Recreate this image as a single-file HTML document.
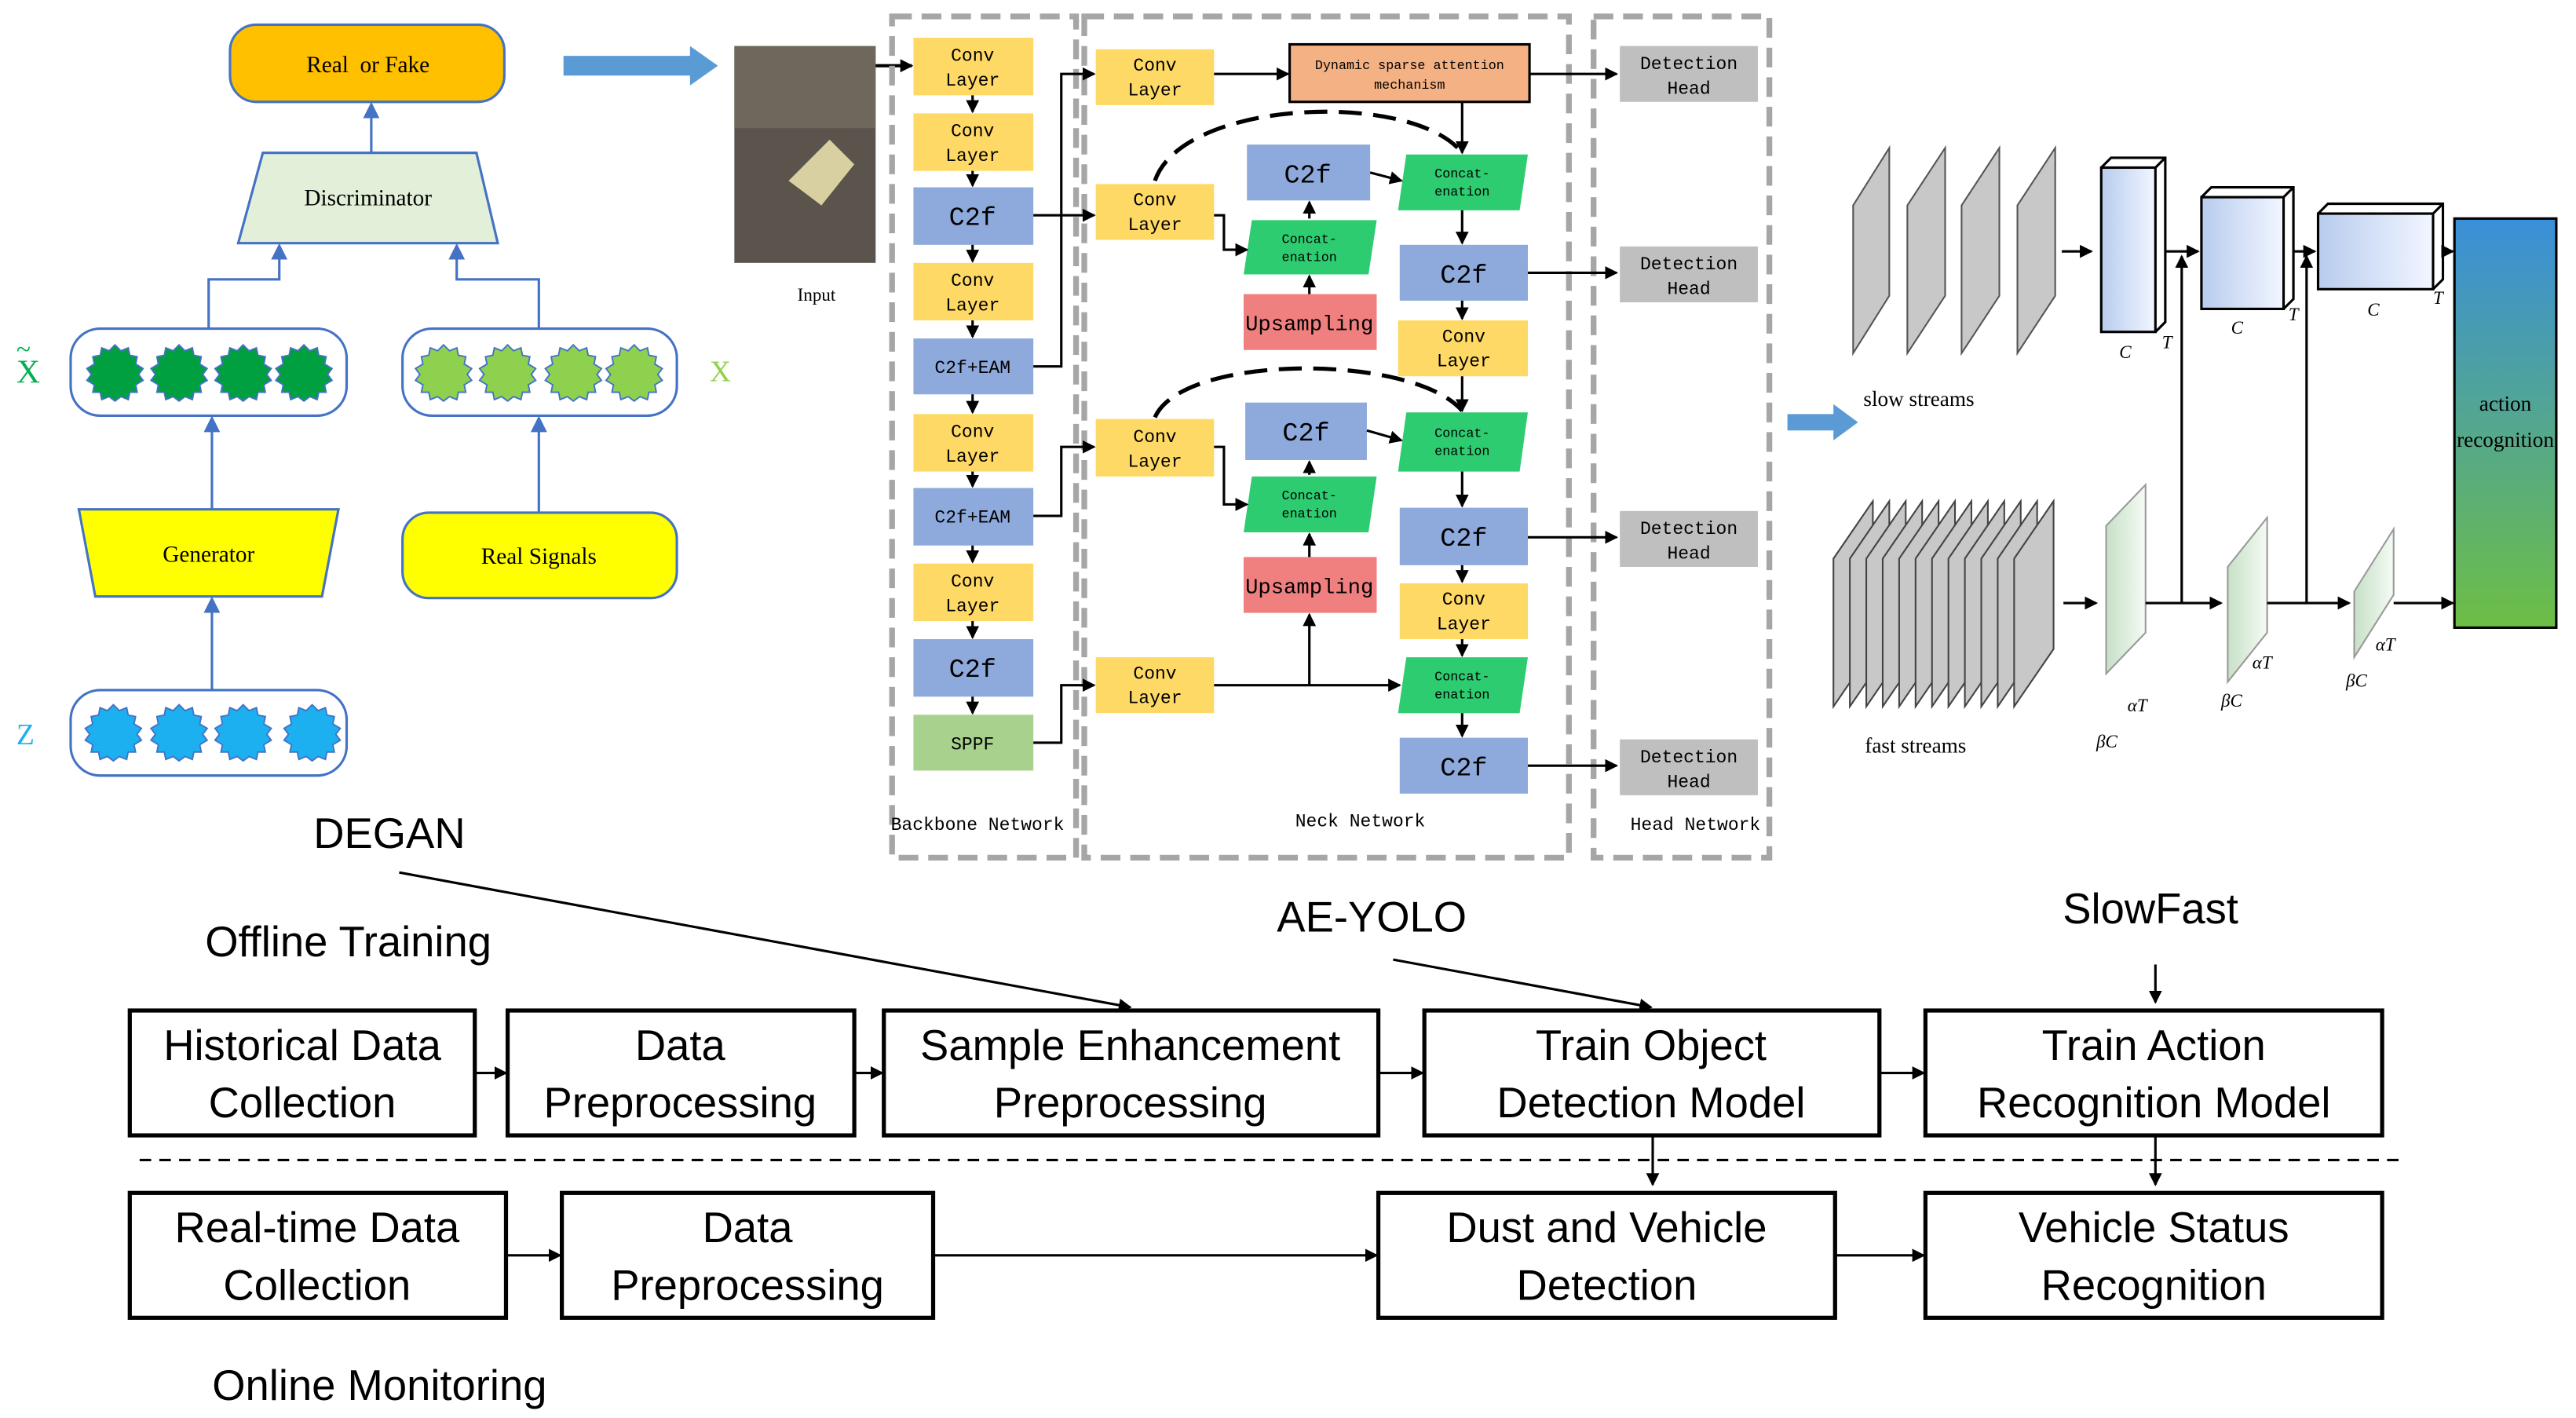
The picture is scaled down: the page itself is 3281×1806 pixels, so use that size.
<!DOCTYPE html>
<html><head><meta charset="utf-8"><style>html,body{margin:0;padding:0;background:#fff}svg{display:block}</style></head><body>
<svg width="3281" height="1806" viewBox="0 0 1568 863" preserveAspectRatio="none" xmlns="http://www.w3.org/2000/svg" font-family="Liberation Serif, serif">
<defs>
<marker id="a" markerWidth="8" markerHeight="8" refX="7" refY="4" orient="auto" markerUnits="userSpaceOnUse"><path d="M0,0 L8,4 L0,8 z" fill="#000"/></marker>
<marker id="ab" markerWidth="10" markerHeight="10" refX="8" refY="5" orient="auto" markerUnits="userSpaceOnUse"><path d="M0,0 L10,5 L0,10 z" fill="#4472C4"/></marker>
<linearGradient id="g" x1="0" y1="0" x2="0" y2="1"><stop offset="0" stop-color="#3A8FD9"/><stop offset="1" stop-color="#6DBE45"/></linearGradient>
<linearGradient id="cb" x1="0" y1="0" x2="1" y2="0"><stop offset="0" stop-color="#B8CCEE"/><stop offset="1" stop-color="#F2F6FF"/></linearGradient>
<linearGradient id="cg" x1="0" y1="0" x2="1" y2="0"><stop offset="0" stop-color="#C6E0C6"/><stop offset="1" stop-color="#F5FBF5"/></linearGradient>
<symbol id="st" viewBox="-20 -20 40 40"><polygon points="0,-19 4,-15 9,-17 10,-12 15,-11 14,-6 19,-3 16,1 19,5 14,8 15,13 10,13 9,18 4,16 0,19 -4,16 -9,18 -10,13 -15,13 -14,8 -19,5 -16,1 -19,-3 -14,-6 -15,-11 -10,-12 -9,-17 -4,-15"/></symbol>
</defs>

<!-- DEGAN -->
<rect x="140" y="15" width="167" height="47" rx="16" fill="#FFC000" stroke="#4472C4" stroke-width="1.5"/>
<text x="224" y="44" font-size="14" text-anchor="middle">Real &#160;or Fake</text>
<path d="M343,40 L422,40" stroke="#5B9BD5" stroke-width="12"/><path d="M420,28 L437,40 L420,52z" fill="#5B9BD5"/>
<path d="M160,93 L290,93 L303,148 L145,148z" fill="#E2F0D9" stroke="#4472C4" stroke-width="1.5"/>
<text x="224" y="125" font-size="14" text-anchor="middle">Discriminator</text>
<line x1="226" y1="93" x2="226" y2="64" stroke="#4472C4" stroke-width="1.5" marker-end="url(#ab)"/>
<path d="M127,200 L127,170 L170,170 L170,150" fill="none" stroke="#4472C4" stroke-width="1.5" marker-end="url(#ab)"/>
<path d="M328,200 L328,170 L278,170 L278,150" fill="none" stroke="#4472C4" stroke-width="1.5" marker-end="url(#ab)"/>
<rect x="43" y="200" width="168" height="53" rx="18" fill="#fff" stroke="#4472C4" stroke-width="1.5"/>
<g fill="#00A040" stroke="#4472C4" stroke-width="1"><use href="#st" x="52" y="209" width="36" height="36"/><use href="#st" x="91" y="209" width="36" height="36"/><use href="#st" x="130" y="209" width="36" height="36"/><use href="#st" x="167" y="209" width="36" height="36"/></g>
<rect x="245" y="200" width="167" height="53" rx="18" fill="#fff" stroke="#4472C4" stroke-width="1.5"/>
<g fill="#8DD14F" stroke="#4472C4" stroke-width="1"><use href="#st" x="252" y="209" width="36" height="36"/><use href="#st" x="291" y="209" width="36" height="36"/><use href="#st" x="331" y="209" width="36" height="36"/><use href="#st" x="368" y="209" width="36" height="36"/></g>
<text x="10" y="233" font-size="20" fill="#00B050">X</text><text x="10" y="218" font-size="16" fill="#00B050">~</text>
<text x="432" y="232" font-size="18" fill="#92D050">X</text>
<line x1="129" y1="310" x2="129" y2="255" stroke="#4472C4" stroke-width="1.5" marker-end="url(#ab)"/>
<line x1="328" y1="312" x2="328" y2="255" stroke="#4472C4" stroke-width="1.5" marker-end="url(#ab)"/>
<path d="M48,310 L206,310 L196,363 L58,363z" fill="#FFFF00" stroke="#4472C4" stroke-width="1.5"/>
<text x="127" y="342" font-size="14" text-anchor="middle">Generator</text>
<rect x="245" y="312" width="167" height="52" rx="16" fill="#FFFF00" stroke="#4472C4" stroke-width="1.5"/>
<text x="328" y="343" font-size="14" text-anchor="middle">Real Signals</text>
<line x1="129" y1="420" x2="129" y2="365" stroke="#4472C4" stroke-width="1.5" marker-end="url(#ab)"/>
<rect x="43" y="420" width="168" height="52" rx="18" fill="#fff" stroke="#4472C4" stroke-width="1.5"/>
<g fill="#1CB0F0" stroke="#4472C4" stroke-width="1"><use href="#st" x="51" y="428" width="36" height="36"/><use href="#st" x="91" y="428" width="36" height="36"/><use href="#st" x="130" y="428" width="36" height="36"/><use href="#st" x="172" y="428" width="36" height="36"/></g>
<text x="10" y="453" font-size="18" fill="#1CB0F0">Z</text>
<text x="237" y="516" font-size="26" text-anchor="middle" font-family="Liberation Sans, sans-serif">DEGAN</text>

<!-- AE-YOLO -->
<rect x="447" y="28" width="86" height="132" fill="#5a544c"/>
<rect x="447" y="28" width="86" height="50" fill="#7a7468" opacity="0.6"/>
<path d="M480,110 L505,85 L520,100 L500,125z" fill="#d8d0a0"/>
<text x="497" y="183" font-size="11" text-anchor="middle">Input</text>
<line x1="533" y1="40" x2="555" y2="40" stroke="#000" stroke-width="2" marker-end="url(#a)"/>
<g fill="none" stroke="#A6A6A6" stroke-width="3.5" stroke-dasharray="12,6">
<rect x="543" y="10" width="112" height="512"/><rect x="660" y="10" width="295" height="512"/><rect x="970" y="10" width="107" height="512"/>
</g>
<g font-family="Liberation Mono, monospace" font-size="11" text-anchor="middle">
<g fill="#FFD966">
<rect x="556" y="23" width="73" height="35"/><rect x="556" y="69" width="73" height="35"/><rect x="556" y="160" width="73" height="35"/><rect x="556" y="252" width="73" height="35"/><rect x="556" y="343" width="73" height="35"/>
<rect x="667" y="30" width="72" height="34"/><rect x="667" y="112" width="72" height="34"/><rect x="667" y="255" width="72" height="35"/><rect x="667" y="400" width="72" height="34"/>
<rect x="851" y="195" width="79" height="34"/><rect x="852" y="355" width="78" height="34"/>
</g>
<g fill="#8EA9DB">
<rect x="556" y="114" width="73" height="35"/><rect x="556" y="206" width="73" height="34"/><rect x="556" y="297" width="73" height="35"/><rect x="556" y="389" width="73" height="35"/>
<rect x="759" y="88" width="75" height="34"/><rect x="758" y="245" width="74" height="35"/>
<rect x="852" y="149" width="78" height="34"/><rect x="852" y="309" width="78" height="35"/><rect x="852" y="449" width="78" height="34"/>
</g>
<rect x="556" y="435" width="73" height="34" fill="#A9D18E"/>
<g fill="#2ECC71"><path d="M762,134 L838,134 L833,167 L757,167z"/><path d="M762,290 L838,290 L833,324 L757,324z"/>
<path d="M856,94 L930,94 L925,128 L851,128z"/><path d="M856,251 L930,251 L925,287 L851,287z"/><path d="M856,400 L930,400 L925,434 L851,434z"/></g>
<rect x="757" y="179" width="81" height="34" fill="#F08080"/><rect x="757" y="339" width="81" height="34" fill="#F08080"/>
<rect x="785" y="27" width="146" height="35" fill="#F4B183" stroke="#000" stroke-width="1.5"/>
<g fill="#BFBFBF"><rect x="986" y="28" width="84" height="34"/><rect x="986" y="150" width="84" height="34"/><rect x="986" y="311" width="84" height="34"/><rect x="986" y="450" width="84" height="34"/></g>
<g>
<text x="592" y="37">Conv</text><text x="592" y="52">Layer</text>
<text x="592" y="83">Conv</text><text x="592" y="98">Layer</text>
<text x="592" y="137" font-size="16">C2f</text>
<text x="592" y="174">Conv</text><text x="592" y="189">Layer</text>
<text x="592" y="227">C2f+EAM</text>
<text x="592" y="266">Conv</text><text x="592" y="281">Layer</text>
<text x="592" y="318">C2f+EAM</text>
<text x="592" y="357">Conv</text><text x="592" y="372">Layer</text>
<text x="592" y="412" font-size="16">C2f</text>
<text x="592" y="456">SPPF</text>
<text x="703" y="43">Conv</text><text x="703" y="58">Layer</text>
<text x="703" y="125">Conv</text><text x="703" y="140">Layer</text>
<text x="703" y="269">Conv</text><text x="703" y="284">Layer</text>
<text x="703" y="413">Conv</text><text x="703" y="428">Layer</text>
<text x="858" y="42" font-size="8">Dynamic sparse attention</text><text x="858" y="54" font-size="8">mechanism</text>
<text x="796" y="111" font-size="16">C2f</text><text x="795" y="268" font-size="16">C2f</text>
<text x="797" y="148" font-size="8">Concat-</text><text x="797" y="159" font-size="8">enation</text>
<text x="797" y="304" font-size="8">Concat-</text><text x="797" y="315" font-size="8">enation</text>
<text x="797" y="201" font-size="13">Upsampling</text><text x="797" y="361" font-size="13">Upsampling</text>
<text x="890" y="108" font-size="8">Concat-</text><text x="890" y="119" font-size="8">enation</text>
<text x="890" y="266" font-size="8">Concat-</text><text x="890" y="277" font-size="8">enation</text>
<text x="890" y="414" font-size="8">Concat-</text><text x="890" y="425" font-size="8">enation</text>
<text x="891" y="172" font-size="16">C2f</text><text x="891" y="332" font-size="16">C2f</text><text x="891" y="472" font-size="16">C2f</text>
<text x="891" y="208">Conv</text><text x="891" y="223">Layer</text>
<text x="891" y="368">Conv</text><text x="891" y="383">Layer</text>
<text x="1028" y="42">Detection</text><text x="1028" y="57">Head</text>
<text x="1028" y="164">Detection</text><text x="1028" y="179">Head</text>
<text x="1028" y="325">Detection</text><text x="1028" y="340">Head</text>
<text x="1028" y="464">Detection</text><text x="1028" y="479">Head</text>
<text x="595" y="505">Backbone Network</text><text x="828" y="503">Neck Network</text><text x="1032" y="505">Head Network</text>
</g>
</g>
<g stroke="#000" stroke-width="1.5" fill="none" marker-end="url(#a)">
<line x1="592" y1="58" x2="592" y2="68"/><line x1="592" y1="104" x2="592" y2="113"/><line x1="592" y1="149" x2="592" y2="159"/><line x1="592" y1="195" x2="592" y2="205"/><line x1="592" y1="240" x2="592" y2="251"/><line x1="592" y1="287" x2="592" y2="296"/><line x1="592" y1="332" x2="592" y2="342"/><line x1="592" y1="378" x2="592" y2="388"/><line x1="592" y1="424" x2="592" y2="434"/>
<path d="M629,131 L666,131"/><path d="M629,223 L646,223 L646,45 L666,45"/><path d="M629,314 L646,314 L646,272 L666,272"/><path d="M629,452 L646,452 L646,417 L666,417"/>
<path d="M739,45 L784,45"/><path d="M931,45 L984,45"/><path d="M890,62 L890,93"/>
<path d="M739,131 L745,131 L745,152 L759,152"/><path d="M797,133 L797,123"/><path d="M797,179 L797,168"/>
<path d="M834,105 L853,110"/><path d="M890,128 L890,148"/><path d="M930,166 L984,166"/><path d="M890,183 L890,194"/><path d="M890,229 L890,250"/>
<path d="M739,272 L745,272 L745,307 L759,307"/><path d="M797,289 L797,281"/><path d="M797,339 L797,325"/>
<path d="M832,262 L853,268"/><path d="M890,287 L890,308"/><path d="M930,327 L984,327"/><path d="M890,344 L890,354"/><path d="M890,389 L890,399"/>
<path d="M739,417 L852,417"/><path d="M797,417 L797,374"/><path d="M890,434 L890,448"/><path d="M930,466 L984,466"/>
</g>
<path d="M703,110 C720,60 860,55 890,93" fill="none" stroke="#000" stroke-width="2.5" stroke-dasharray="14,7"/>
<path d="M703,254 C720,215 860,215 890,250" fill="none" stroke="#000" stroke-width="2.5" stroke-dasharray="14,7"/>

<!-- SlowFast -->
<path d="M1088,257 L1118,257" stroke="#5B9BD5" stroke-width="10"/><path d="M1116,246 L1131,257 L1116,268z" fill="#5B9BD5"/>
<g fill="#C8C8C8" stroke="#555" stroke-width="1">
<path d="M1128,125 L1150,90 L1150,180 L1128,215z"/><path d="M1161,125 L1184,90 L1184,180 L1161,215z"/><path d="M1194,125 L1217,90 L1217,180 L1194,215z"/><path d="M1228,125 L1251,90 L1251,180 L1228,215z"/>
</g>
<text x="1168" y="247" font-size="13" text-anchor="middle">slow streams</text>
<g fill="#C8C8C8" stroke="#444" stroke-width="1">
<path d="M1116,340 L1140,305 L1140,395 L1116,430z"/><path d="M1126,340 L1150,305 L1150,395 L1126,430z"/><path d="M1136,340 L1160,305 L1160,395 L1136,430z"/><path d="M1146,340 L1170,305 L1170,395 L1146,430z"/><path d="M1156,340 L1180,305 L1180,395 L1156,430z"/><path d="M1166,340 L1190,305 L1190,395 L1166,430z"/><path d="M1176,340 L1200,305 L1200,395 L1176,430z"/><path d="M1186,340 L1210,305 L1210,395 L1186,430z"/><path d="M1196,340 L1220,305 L1220,395 L1196,430z"/><path d="M1206,340 L1230,305 L1230,395 L1206,430z"/><path d="M1216,340 L1240,305 L1240,395 L1216,430z"/><path d="M1226,340 L1250,305 L1250,395 L1226,430z"/>
</g>
<text x="1166" y="458" font-size="13" text-anchor="middle">fast streams</text>
<g stroke="#000" stroke-width="1.5">
<rect x="1279" y="102" width="33" height="100" fill="url(#cb)"/><path d="M1279,102 L1285,96 L1318,96 L1318,196 L1312,202 M1312,102 L1318,96" fill="none"/>
<rect x="1340" y="120" width="50" height="68" fill="url(#cb)"/><path d="M1340,120 L1346,114 L1396,114 L1396,182 L1390,188 M1390,120 L1396,114" fill="none"/>
<rect x="1411" y="130" width="70" height="46" fill="url(#cb)"/><path d="M1411,130 L1417,124 L1487,124 L1487,170 L1481,176 M1481,130 L1487,124" fill="none"/>
</g>
<g fill="url(#cg)" stroke="#999" stroke-width="1">
<path d="M1282,320 L1306,295 L1306,385 L1282,410z"/><path d="M1356,345 L1380,315 L1380,385 L1356,415z"/><path d="M1433,360 L1457,322 L1457,362 L1433,400z"/>
</g>
<g font-size="11" font-style="italic"><text x="1290" y="218">C</text><text x="1316" y="212">T</text><text x="1358" y="203">C</text><text x="1393" y="195">T</text><text x="1441" y="192">C</text><text x="1481" y="185">T</text>
<text x="1276" y="455">βC</text><text x="1295" y="433">αT</text><text x="1352" y="430">βC</text><text x="1371" y="407">αT</text><text x="1428" y="418">βC</text><text x="1446" y="396">αT</text></g>
<g stroke="#000" stroke-width="1.5" fill="none" marker-end="url(#a)">
<line x1="1255" y1="153" x2="1273" y2="153"/><line x1="1318" y1="153" x2="1338" y2="153"/><line x1="1396" y1="153" x2="1409" y2="153"/><line x1="1487" y1="153" x2="1493" y2="153"/>
<line x1="1256" y1="367" x2="1276" y2="367"/><line x1="1306" y1="367" x2="1352" y2="367"/><line x1="1380" y1="367" x2="1430" y2="367"/><line x1="1457" y1="367" x2="1493" y2="367"/>
<line x1="1328" y1="367" x2="1328" y2="156"/><line x1="1404" y1="367" x2="1404" y2="156"/>
</g>
<rect x="1494" y="133" width="62" height="249" fill="url(#g)" stroke="#000" stroke-width="1.5"/>
<text x="1525" y="250" font-size="13" text-anchor="middle">action</text><text x="1525" y="272" font-size="13" text-anchor="middle">recognition</text>

<!-- Bottom flow -->
<g font-family="Liberation Sans, sans-serif" font-size="26" text-anchor="middle">
<text x="212" y="582">Offline Training</text><text x="835" y="567">AE-YOLO</text><text x="1309" y="562">SlowFast</text><text x="231" y="852">Online Monitoring</text>
<g fill="#fff" stroke="#000" stroke-width="2.5">
<rect x="79" y="615" width="210" height="76"/><rect x="309" y="615" width="211" height="76"/><rect x="538" y="615" width="301" height="76"/><rect x="867" y="615" width="277" height="76"/><rect x="1172" y="615" width="278" height="76"/>
<rect x="79" y="726" width="229" height="76"/><rect x="342" y="726" width="226" height="76"/><rect x="839" y="726" width="278" height="76"/><rect x="1172" y="726" width="278" height="76"/>
</g>
<text x="184" y="645">Historical Data</text><text x="184" y="680">Collection</text>
<text x="414" y="645">Data</text><text x="414" y="680">Preprocessing</text>
<text x="688" y="645">Sample Enhancement</text><text x="688" y="680">Preprocessing</text>
<text x="1005" y="645">Train Object</text><text x="1005" y="680">Detection Model</text>
<text x="1311" y="645">Train Action</text><text x="1311" y="680">Recognition Model</text>
<text x="193" y="756">Real-time Data</text><text x="193" y="791">Collection</text>
<text x="455" y="756">Data</text><text x="455" y="791">Preprocessing</text>
<text x="978" y="756">Dust and Vehicle</text><text x="978" y="791">Detection</text>
<text x="1311" y="756">Vehicle Status</text><text x="1311" y="791">Recognition</text>
</g>
<line x1="85" y1="706" x2="1465" y2="706" stroke="#000" stroke-width="1.5" stroke-dasharray="7,5"/>
<g stroke="#000" stroke-width="1.5" fill="none" marker-end="url(#a)">
<line x1="289" y1="653" x2="308" y2="653"/><line x1="520" y1="653" x2="537" y2="653"/><line x1="839" y1="653" x2="866" y2="653"/><line x1="1144" y1="653" x2="1171" y2="653"/>
<line x1="308" y1="764" x2="341" y2="764"/><line x1="568" y1="764" x2="838" y2="764"/><line x1="1117" y1="764" x2="1171" y2="764"/>
<line x1="243" y1="531" x2="688" y2="613"/><line x1="848" y1="584" x2="1005" y2="613"/><line x1="1312" y1="587" x2="1312" y2="610"/>
<line x1="1006" y1="692" x2="1006" y2="721"/><line x1="1312" y1="692" x2="1312" y2="721"/>
</g>
</svg>
</body></html>
